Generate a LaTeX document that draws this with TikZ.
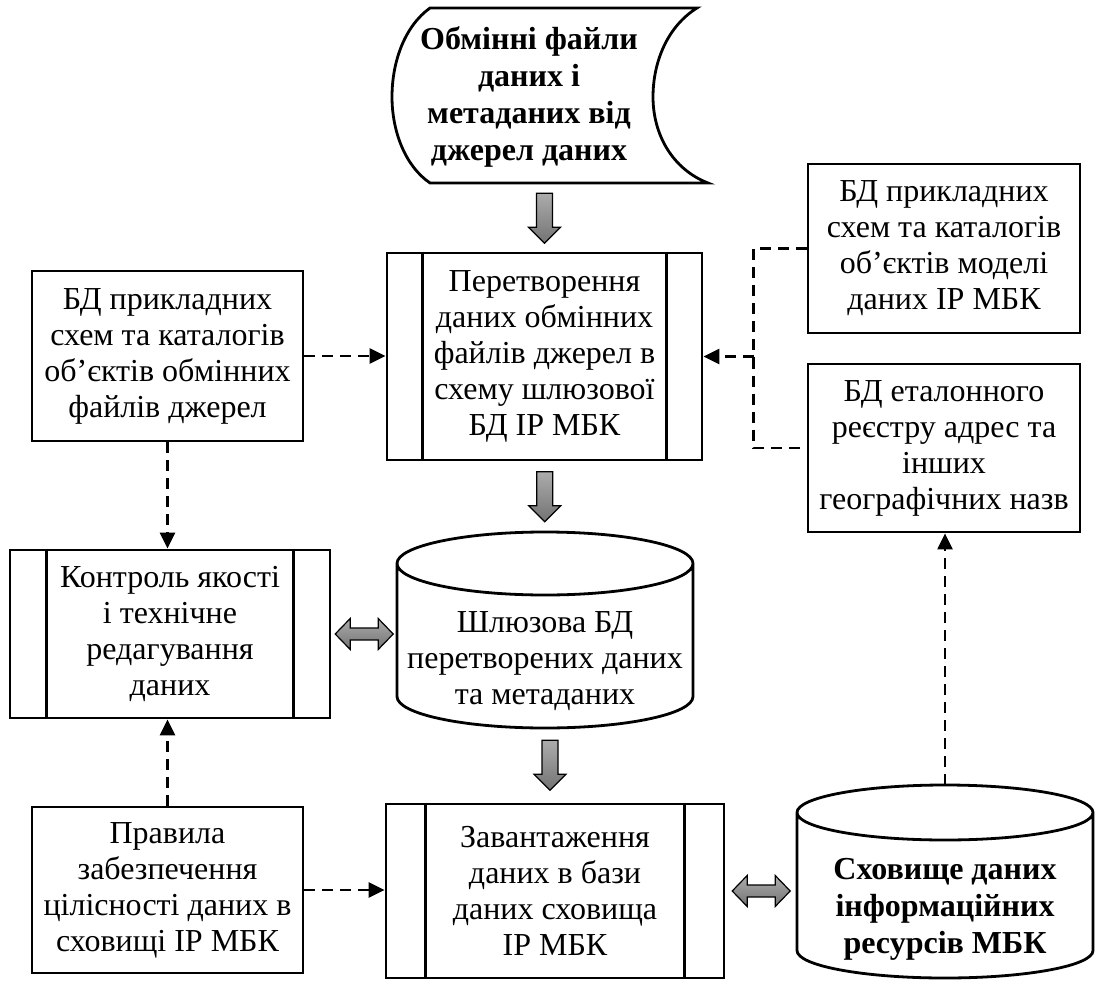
\documentclass[tikz,border=0pt]{standalone}
\usepackage{fontspec}
\setmainfont{Liberation Serif}
\usetikzlibrary{arrows.meta,calc,positioning}

\tikzset{
	txt/.style={inner sep=0pt, align=center, font=\fontsize{16}{18}\selectfont},
	bold/.style={font=\fontsize{16}{18.5}\selectfont\bfseries},
	box/.style={txt, draw, line width=1.4pt},
	dline/.style={line width=1.2pt, dash pattern=on 5.5pt off 3.5pt},
	dep/.style={dline, -{Triangle[length=8pt,width=7.5pt]}},
	downarr/.pic={\draw[line width=0.6pt, top color=gray!65, bottom color=black!55] (-4pt,12.5pt) -- (4pt,12.5pt) -- (4pt,-4.5pt) -- (8pt,-4.5pt) -- (0pt,-12.5pt) -- (-8pt,-4.5pt) -- (-4pt,-4.5pt) -- cycle;},
	duoarr/.pic={\draw[line width=0.6pt, top color=gray!65, bottom color=black!55] (-14.5pt,0pt) -- (-7pt,7.75pt) -- (-7pt,3pt) -- (7pt,3pt) -- (7pt,7.75pt) -- (14.5pt,0pt) -- (7pt,-7.75pt) -- (7pt,-3pt) -- (-7pt,-3pt) -- (-7pt,-7.75pt) -- cycle;}
}

\begin{document}
\begin{tikzpicture}[x=0.5pt, y=0.5pt]
	\useasboundingbox (0,0) rectangle (1095,981);

	% source files (tape)
	\node[txt, bold, minimum height=87.5pt] (src) at (529,884) {Обмінні файли\\даних і\\метаданих від\\джерел даних};
	\draw[line width=1.4pt] (430,973) -- (697,973) .. controls (668,955) and (653,920) .. (653,884) .. controls (653,847) and (672,812) .. (708,798) -- (430,798) .. controls (405,815) and (392,850) .. (392,884) .. controls (392,920) and (405,955) .. (430,973) -- cycle;

	% processes
	\node[box, minimum width=157.5pt, minimum height=103.5pt] (pere) at (544.5,624.5) {Перетворення\\даних обмінних\\файлів джерел в\\схему шлюзової\\БД ІР МБК};
	\node[box, minimum width=160pt, minimum height=84pt] (qc) at (170,347) {Контроль якості\\і технічне\\редагування\\даних};
	\node[box, minimum width=169pt, minimum height=87pt] (load) at (555,90) {Завантаження\\даних в бази\\даних сховища\\ІР МБК};
	\foreach \n/\d in {pere/18.5pt, qc/19pt, load/20.5pt} {
		\draw[line width=1.4pt] ([xshift=\d]\n.north west) -- ([xshift=\d]\n.south west);
		\draw[line width=1.4pt] ([xshift=-\d]\n.north east) -- ([xshift=-\d]\n.south east);
	}

	% databases
	\node[box, minimum width=135.5pt, minimum height=85pt] (lsch) at (167.5,625) {БД прикладних\\схем та каталогів\\об’єктів обмінних\\файлів джерел};
	\node[box, minimum width=136pt, minimum height=84.5pt] (msch) at (944,732.5) {БД прикладних\\схем та каталогів\\об’єктів моделі\\даних ІР МБК};
	\node[box, minimum width=136pt, minimum height=84pt] (ref) at (944,533) {БД еталонного\\реєстру адрес та\\інших\\географічних назв};
	\node[box, minimum width=135.5pt, minimum height=83pt] (rules) at (167.5,91) {Правила\\забезпечення\\цілісності даних в\\сховищі ІР МБК};

	% cylinders
	\node[txt, outer sep=0pt, minimum width=148pt, minimum height=66.5pt] (gw) at (545,319.5) {Шлюзова БД\\перетворених даних\\та метаданих};
	\node[txt, bold, outer sep=0pt, minimum width=148pt, minimum height=69pt] (store) at (945,72) {Сховище даних\\інформаційних\\ресурсів МБК};
	\foreach \n/\r in {gw/15.75pt, store/13.75pt}
		\draw[line width=1.4pt] ([yshift=\r]\n.north west) -- ([yshift=\r]\n.south west) arc[start angle=180, end angle=360, x radius=74pt, y radius=\r] -- ([yshift=\r]\n.north east) arc[start angle=0, end angle=360, x radius=74pt, y radius=\r];
	\coordinate (gwtop) at ([yshift=31.5pt]gw.north);
	\coordinate (sttop) at ([yshift=27.5pt]store.north);

	% block arrows
	\pic at ($(src.south -| pere.north)!.5!(pere.north)$) {downarr};
	\pic at ($(pere.south)!.5!(gwtop)$) {downarr};
	\pic at ($(gw.south)!.5!(load.north)$) {downarr};
	\pic at ($(qc.east)!.5!(qc.east -| gw.west)$) {duoarr};
	\pic at ($(load.east)!.5!(load.east -| store.west)$) {duoarr};

	% dashed links
	\draw[dep] (lsch.east) -- (lsch.east -| pere.west);
	\draw[dep] (lsch.south) -- (lsch.south |- qc.north);
	\draw[dep] (rules.north) -- (rules.north |- qc.south);
	\draw[dep] (rules.east) -- (rules.east -| load.west);
	\coordinate (jn) at ($(msch.west)+(-53,0)$);
	\draw[dline] (msch.west) -- (jn) |- (ref.west);
	\draw[dep] (jn |- pere.east) -- (pere.east);
	\draw[dep] (sttop) -- (sttop |- ref.south);
\end{tikzpicture}
\end{document}
